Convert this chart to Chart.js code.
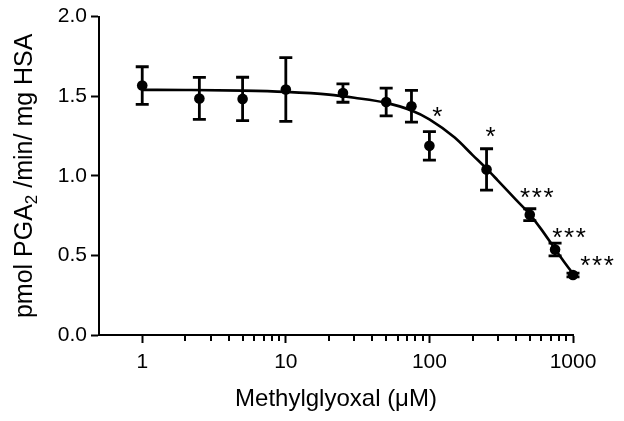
<!DOCTYPE html>
<html>
<head>
<meta charset="utf-8">
<script src="https://cdn.jsdelivr.net/npm/chart.js@4.4.1/dist/chart.umd.min.js"></script>
<style>
  html, body { margin: 0; padding: 0; background: #fff; }
  #wrap { width: 624px; height: 421px; }
</style>
</head>
<body>
<div id="wrap"><canvas id="chart" width="624" height="421"></canvas></div>
<script>
// measured points (mean +/- SEM)
const doseX = [1, 2.5, 5, 10, 25, 50, 75, 100, 250, 500, 750, 1000];
const meanY = [1.567, 1.486, 1.483, 1.542, 1.52, 1.464, 1.437, 1.188, 1.04, 0.756, 0.537, 0.377];
const semY  = [0.118, 0.132, 0.136, 0.20, 0.058, 0.087, 0.10, 0.089, 0.13, 0.037, 0.04, 0.012];

// fitted curve
const curveX = [1, 2, 5, 10, 20, 30, 50, 75, 100, 150, 200, 250, 300, 400, 500, 600, 750, 900, 1000];
const curveY = [1.54, 1.539, 1.535, 1.527, 1.51, 1.49, 1.458, 1.41, 1.355, 1.24, 1.13, 1.045, 0.97, 0.85, 0.758, 0.665, 0.54, 0.44, 0.385];

// significance marks
const sigDose = [100, 250, 500, 750, 1000];
const sigText = ['*', '*', '***', '***', '***'];

const xTicks = [1, 10, 100, 1000];
const yTicks = [0, 0.5, 1.0, 1.5, 2.0];

// y title pieces: [text, subscript?]
const yTitleParts = [['pmol PGA', false], ['2', true], [' /min/ mg HSA', false]];

const FONT = '"Liberation Sans", Arial, sans-serif';

const extras = {
  id: 'extras',
  afterDraw(chart) {
    const { ctx, scales: { x, y } } = chart;
    ctx.save();
    ctx.strokeStyle = '#000';
    ctx.fillStyle = '#000';

    // minor ticks on the log axis
    ctx.lineWidth = 2;
    const yb = y.bottom;
    for (let p = 0; p < 3; p++) {
      for (let m = 2; m <= 9; m++) {
        const px = Math.round(x.getPixelForValue(m * Math.pow(10, p)));
        ctx.beginPath();
        ctx.moveTo(px, yb);
        ctx.lineTo(px, yb + 6);
        ctx.stroke();
      }
    }

    // error bars
    ctx.lineWidth = 2.8;
    doseX.forEach((d, i) => {
      const px = x.getPixelForValue(d);
      const top = y.getPixelForValue(meanY[i] + semY[i]);
      const bot = y.getPixelForValue(meanY[i] - semY[i]);
      ctx.beginPath();
      ctx.moveTo(px, top); ctx.lineTo(px, bot);
      ctx.moveTo(px - 6.5, top); ctx.lineTo(px + 6.5, top);
      ctx.moveTo(px - 6.5, bot); ctx.lineTo(px + 6.5, bot);
      ctx.stroke();
    });

    // asterisks
    const offsets = [[8, -34], [4, -37], [7, -22], [14, -17], [24, -14]];
    ctx.font = '26px ' + FONT;
    ctx.textAlign = 'center';
    ctx.textBaseline = 'alphabetic';
    const m = ctx.measureText('*');
    const shift = (m.actualBoundingBoxAscent - m.actualBoundingBoxDescent) / 2;
    sigDose.forEach((d, i) => {
      const idx = doseX.indexOf(d);
      const cx = x.getPixelForValue(d) + offsets[i][0];
      const cy = y.getPixelForValue(meanY[idx]) + offsets[i][1];
      const n = sigText[i].length;
      for (let k = 0; k < n; k++) {
        ctx.fillText('*', cx + (k - (n - 1) / 2) * 11.8, cy + shift);
      }
    });

    // y axis title with a real subscript
    const big = '25px ' + FONT, small = '17px ' + FONT;
    let total = 0;
    yTitleParts.forEach(([t, sub]) => {
      ctx.font = sub ? small : big;
      total += ctx.measureText(t).width;
    });
    ctx.translate(32, (y.top + y.bottom) / 2);
    ctx.rotate(-Math.PI / 2);
    ctx.textAlign = 'left';
    let pos = -total / 2;
    yTitleParts.forEach(([t, sub]) => {
      ctx.font = sub ? small : big;
      ctx.fillText(t, pos, sub ? 5 : 0);
      pos += ctx.measureText(t).width;
    });
    ctx.restore();
  }
};

new Chart(document.getElementById('chart'), {
  type: 'scatter',
  data: {
    datasets: [
      {
        type: 'line',
        data: curveX.map((v, i) => ({ x: v, y: curveY[i] })),
        borderColor: '#000',
        borderWidth: 2.6,
        pointRadius: 0,
        cubicInterpolationMode: 'monotone',
        fill: false,
        clip: false
      },
      {
        data: doseX.map((v, i) => ({ x: v, y: meanY[i] })),
        backgroundColor: '#000',
        borderColor: '#000',
        borderWidth: 0,
        pointRadius: 5.3,
        clip: false
      }
    ]
  },
  options: {
    responsive: false,
    animation: false,
    layout: { padding: { left: 0, right: 51, top: 15, bottom: 0 } },
    plugins: { legend: { display: false }, tooltip: { enabled: false } },
    scales: {
      x: {
        type: 'logarithmic',
        min: 0.5,
        max: 1000,
        afterBuildTicks: s => { s.ticks = xTicks.map(v => ({ value: v })); },
        afterFit: s => { s.height = 86; },
        border: { display: true, color: '#000', width: 2 },
        grid: { drawOnChartArea: false, drawTicks: true, tickLength: 8, tickWidth: 2, tickColor: '#000' },
        ticks: {
          color: '#000',
          padding: 7,
          maxRotation: 0,
          font: { family: FONT, size: 21 },
          callback: v => String(v)
        },
        title: {
          display: true,
          text: 'Methylglyoxal (μM)',
          color: '#000',
          font: { family: FONT, size: 24 },
          padding: { top: 4, bottom: 7 }
        }
      },
      y: {
        min: 0,
        max: 2,
        afterBuildTicks: s => { s.ticks = yTicks.map(v => ({ value: v })); },
        afterFit: s => { s.width = 99; },
        border: { display: true, color: '#000', width: 2 },
        grid: { drawOnChartArea: false, drawTicks: true, tickLength: 8, tickWidth: 2, tickColor: '#000' },
        ticks: {
          color: '#000',
          padding: 4,
          font: { family: FONT, size: 21 },
          callback: v => v.toFixed(1)
        },
        title: { display: false }
      }
    }
  },
  plugins: [extras]
});
</script>
</body>
</html>
